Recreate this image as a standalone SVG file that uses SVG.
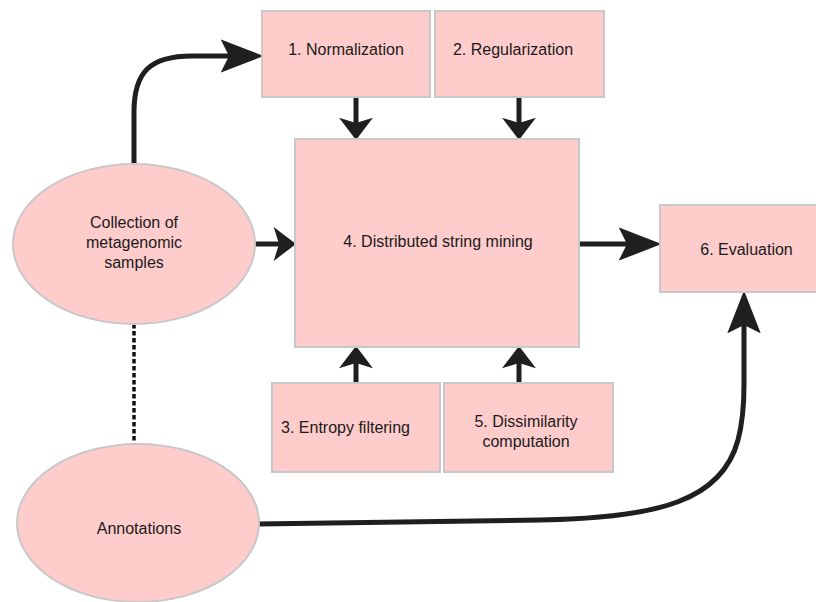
<svg xmlns="http://www.w3.org/2000/svg" width="816" height="602" viewBox="0 0 816 602">
  <style>
    .box { fill: #ffcccc; stroke: #c8c8c8; stroke-width: 2; }
    .lbl { font-family: "Liberation Sans", Arial, sans-serif; font-size: 16px; fill: #1a1a1a; text-anchor: middle; }
    .conn { fill: none; stroke: #1f1f1f; stroke-width: 5; }
    .dot { fill: none; stroke: #111111; stroke-width: 3.5; stroke-dasharray: 4.5 2.5; }
  </style>
  <defs>
    <marker id="bigArrow" markerUnits="userSpaceOnUse" markerWidth="44" markerHeight="36" viewBox="0 -17 42 34" refX="8" refY="0" orient="auto">
      <path d="M41,0 L0,-16 L8,0 L0,16 Z" fill="#1f1f1f"/>
    </marker>
    <marker id="smallArrow" markerUnits="userSpaceOnUse" markerWidth="24" markerHeight="36" viewBox="0 -17 22 34" refX="5" refY="0" orient="auto">
      <path d="M21,0 L0,-16 L5,0 L0,16 Z" fill="#1f1f1f"/>
    </marker>
  </defs>

  <g id="connectors">
    <path class="conn" d="M134,164 L134,112 C134,72 150,56 192,56 L229,56" marker-end="url(#bigArrow)"/>
    <path class="conn" d="M356,97 L356,123" marker-end="url(#smallArrow)"/>
    <path class="conn" d="M519,97 L519,123" marker-end="url(#smallArrow)"/>
    <path class="conn" d="M356,383 L356,363" marker-end="url(#smallArrow)"/>
    <path class="conn" d="M519,383 L519,363" marker-end="url(#smallArrow)"/>
    <path class="conn" d="M255,244 L279,244" marker-end="url(#smallArrow)"/>
    <path class="conn" d="M580,244 L627,244" marker-end="url(#bigArrow)"/>
    <path class="conn" d="M258,524 L540,520 C660,518 722,500 738,440 C742,425 744,405 744,385 L744,325" marker-end="url(#bigArrow)"/>
    <path class="dot" d="M134,324 L134,444"/>
  </g>

  <g id="normalization">
    <rect class="box" x="262" y="11" width="168" height="86"/>
    <text class="lbl" x="346" y="55">1. Normalization</text>
  </g>
  <g id="regularization">
    <rect class="box" x="435" y="11" width="169" height="86"/>
    <text class="lbl" x="513" y="55">2. Regularization</text>
  </g>
  <g id="mining">
    <rect class="box" x="295" y="139" width="284" height="208"/>
    <text class="lbl" x="438" y="247">4. Distributed string mining</text>
  </g>
  <g id="evaluation">
    <rect class="box" x="660" y="205" width="176" height="87"/>
    <text class="lbl" x="746.5" y="255">6. Evaluation</text>
  </g>
  <g id="entropy">
    <rect class="box" x="272" y="383" width="168" height="89"/>
    <text class="lbl" x="345.5" y="433">3. Entropy filtering</text>
  </g>
  <g id="dissimilarity">
    <rect class="box" x="444" y="383" width="169" height="89"/>
    <text class="lbl" x="526" y="427">5. Dissimilarity</text>
    <text class="lbl" x="526" y="447">computation</text>
  </g>
  <g id="samples">
    <ellipse class="box" cx="134" cy="244" rx="121" ry="80"/>
    <text class="lbl" x="134" y="228">Collection of</text>
    <text class="lbl" x="134" y="248">metagenomic</text>
    <text class="lbl" x="134" y="268">samples</text>
  </g>
  <g id="annotations">
    <ellipse class="box" cx="138" cy="523" rx="121" ry="79"/>
    <text class="lbl" x="139" y="534">Annotations</text>
  </g>
</svg>
